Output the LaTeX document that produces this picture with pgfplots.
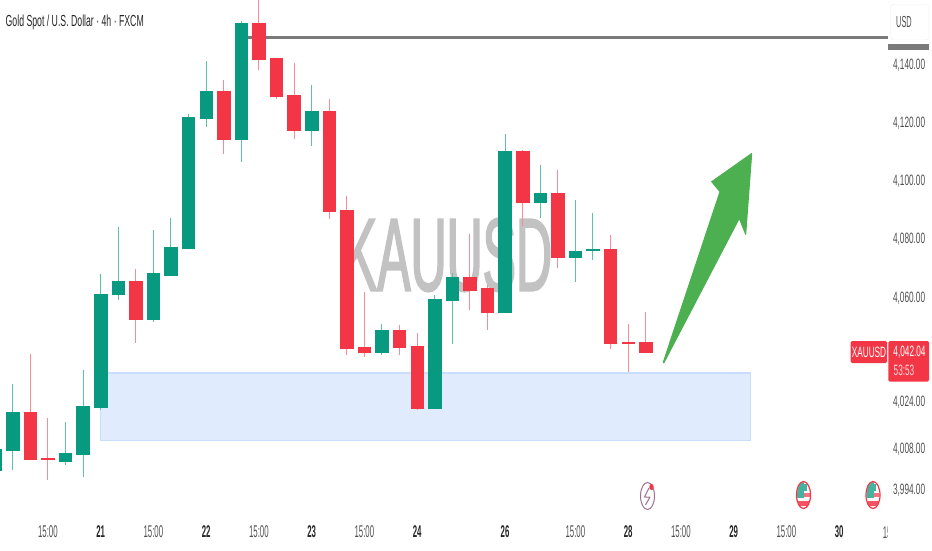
\documentclass[border=0pt]{standalone}
\usepackage{pgfplots}
\pgfplotsset{compat=1.18}
\usepackage{fontspec}
\setmainfont[FakeStretch=0.55]{Liberation Sans}
\newfontfamily\wmfont[FakeStretch=0.48,FakeBold=1.5]{Liberation Sans}
\newfontfamily\titlefont[FakeStretch=0.545]{Liberation Sans}
\newfontfamily\xfont[FakeStretch=0.46]{Liberation Sans}
\definecolor{cgreen}{HTML}{089981}
\definecolor{cred}{HTML}{F23645}
\definecolor{wgreen}{HTML}{5FBFAD}
\definecolor{wred}{HTML}{FA8A95}
\definecolor{zonef}{HTML}{E0ECFD}
\definecolor{zoned}{HTML}{C8DEFB}
\definecolor{axtxt}{HTML}{505050}
\definecolor{arrowg}{HTML}{4CAF50}
\definecolor{iconc}{HTML}{A0708F}
% \candle{index}{body top}{body bottom}{high}{low}{fill}{wick}
\newcommand{\candle}[7]{%
  \pgfmathsetmacro\cL{#1-0.355}\pgfmathsetmacro\cR{#1+0.355}%
  \addplot[draw=#7,line width=1pt] coordinates {(#1,#4)(#1,#5)};
  \addplot[fill=#6,draw=#6,line width=0.6pt] coordinates {(\cL,#2)(\cR,#2)(\cR,#3)(\cL,#3)} -- cycle;}
\newcommand{\gc}[5]{\candle{#1}{#2}{#3}{#4}{#5}{cgreen}{wgreen}}
\newcommand{\rc}[5]{\candle{#1}{#2}{#3}{#4}{#5}{cred}{wred}}
\newcommand{\dl}[1]{\textbf{\textcolor{black!85}{#1}}}
\begin{document}
\begin{tikzpicture}
\path[use as bounding box] (0pt,0pt) rectangle (932pt,550pt);
% watermark behind the candles
\node[text=black!24,inner sep=0,anchor=center] at (448pt,295pt) {\wmfont\fontsize{104}{104}\selectfont KAUUSD};
\begin{axis}[
  at={(0pt,32pt)},anchor=south west,
  scale only axis,width=888pt,height=518pt,
  xmin=-0.722,xmax=49.78,
  ymin=3984.39,ymax=4162.33,
  axis line style={draw=none},
  tick style={draw=none},
  xtick={2,5,8,11,14,17,20,23,28,32,35,38,41,44,47},
  xticklabels={15:00,\dl{21},15:00,\dl{22},15:00,\dl{23},15:00,\dl{24},\dl{26},15:00,\dl{28},15:00,\dl{29},15:00,\dl{30}},
  xticklabel style={font=\xfont\fontsize{17}{19}\selectfont,text=axtxt,anchor=center,yshift=-14pt},
  ytick={3994,4008,4024,4060,4080,4100,4120,4140},
  yticklabels={{3,994.00},{4,008.00},{4,024.00},{4,060.00},{4,080.00},{4,100.00},{4,120.00},{4,140.00}},
  yticklabel pos=right,
  yticklabel style={font=\fontsize{15}{17}\selectfont,text=axtxt,anchor=west,xshift=1.5pt},
  major tick length=0pt,
  clip=true,
]
% demand zone
\addplot[fill=zonef,draw=zoned,line width=1.2pt] coordinates {(4.993,4034.20)(41.98,4034.20)(41.98,4011.01)(4.993,4011.01)} -- cycle;
% resistance line
\addplot[draw=black!52,line width=2.4pt] coordinates {(13.38,4149.4)(49.78,4149.4)};
\gc{-1}{4007.98}{4000.88}{4030.00}{4000.88}
\gc{0}{4020.56}{4007.64}{4030.31}{4000.88}
\rc{1}{4020.56}{4004.55}{4040.72}{4004.55}
\rc{2}{4004.83}{4004.48}{4018.64}{3997.34}
\gc{3}{4006.61}{4003.97}{4017.26}{4002.59}
\gc{4}{4022.86}{4006.27}{4035.23}{3998.57}
\gc{5}{4061.33}{4022.41}{4068.21}{4021.49}
\gc{6}{4065.80}{4061.09}{4084.25}{4059.27}
\rc{7}{4065.80}{4052.51}{4069.92}{4044.40}
\gc{8}{4068.44}{4052.51}{4083.32}{4051.61}
\gc{9}{4077.48}{4067.76}{4087.34}{4067.76}
\gc{10}{4121.90}{4077.14}{4123.17}{4076.79}
\gc{11}{4130.97}{4121.69}{4141.27}{4118.81}
\rc{12}{4130.97}{4114.58}{4134.85}{4109.43}
\gc{13}{4154.19}{4114.58}{4155.12}{4106.78}
\rc{14}{4154.19}{4141.82}{4164.05}{4138.28}
\rc{15}{4142.17}{4129.25}{4142.51}{4128.22}
\rc{16}{4129.45}{4117.67}{4140.79}{4114.48}
\gc{17}{4124.20}{4117.57}{4133.13}{4112.18}
\rc{18}{4124.20}{4089.74}{4128.22}{4087.10}
\rc{19}{4090.09}{4042.68}{4095.00}{4040.38}
\rc{20}{4043.03}{4041.17}{4061.92}{4039.80}
\gc{21}{4048.87}{4041.17}{4051.03}{4040.38}
\rc{22}{4048.87}{4043.03}{4050.58}{4040.38}
\rc{23}{4043.37}{4021.93}{4047.83}{4021.49}
\gc{24}{4059.51}{4021.93}{4060.89}{4021.93}
\gc{25}{4067.17}{4059.17}{4068.55}{4044.26}
\rc{26}{4067.17}{4062.71}{4081.95}{4055.94}
\rc{27}{4063.16}{4055.15}{4064.43}{4048.87}
\gc{28}{4110.36}{4055.15}{4116.19}{4055.15}
\rc{29}{4110.36}{4092.94}{4110.70}{4084.69}
\gc{30}{4095.93}{4092.84}{4105.75}{4087.44}
\rc{31}{4095.93}{4074.05}{4103.93}{4070.37}
\gc{32}{4076.11}{4074.05}{4093.63}{4065.46}
\gc{33}{4076.62}{4076.28}{4089.16}{4073.01}
\rc{34}{4076.55}{4044.40}{4081.50}{4042.54}
\rc{35}{4044.74}{4044.26}{4051.03}{4034.44}
\rc{36}{4044.74}{4041.17}{4055.15}{4041.17}
\end{axis}
\begin{scope}[x=1pt,y=1pt]
% the time label cut off by the price scale
\node[text=axtxt,inner sep=0] at (892.6,17) {\xfont\fontsize{17}{19}\selectfont 15:00};
\fill[white] (888,0) rectangle (932,40);
% title
\node[anchor=west,inner sep=0,text=black!85] at (5.5,528) {\titlefont\fontsize{16}{18}\selectfont Gold Spot / U.S. Dollar · 4h · FXCM};
% arrow
\fill[arrowg,draw=arrowg,line width=1pt,line join=round] (663.2,187.5) -- (720,358.3) -- (711.7,368.3) -- (751.7,396.5) -- (745.7,315.7) -- (739.3,331.7) -- (664,187.5) -- cycle;
% USD box
\draw[black!7,fill=white,rounded corners=3pt] (890.7,510) rectangle (929,545.7);
\node[text=axtxt,inner sep=0] at (904,528) {\xfont\fontsize{16}{18}\selectfont USD};
\fill[black!52] (888,500) rectangle (929,506);
% price tags
\fill[cred,rounded corners=1.5pt] (850.7,187) rectangle (887,209);
\node[text=white,inner sep=0] at (869,198) {\fontsize{15}{17}\selectfont XAUUSD};
\fill[cred,rounded corners=1.5pt] (888.3,168.3) rectangle (929,209);
\node[text=white,inner sep=0] at (909.5,198) {\fontsize{15}{17}\selectfont 4,042.04};
\node[text=white!80!cred,inner sep=0] at (904,180) {\fontsize{15}{17}\selectfont 53:53};
% lightning icon
\draw[iconc,line width=1pt] (647.5,54) ellipse (7 and 13.5);
\draw[iconc,line width=1pt,line join=round] (649,62) -- (644.5,53) -- (650,53) -- (645.5,45);
\fill[cred] (651.5,63) ellipse (2.2 and 3.2);
% flag icons
\foreach \cx in {803.5,873}{
  \begin{scope}
    \clip (\cx,55) ellipse (6.5 and 13);
    \fill[white] (\cx-8,40) rectangle (\cx+8,70);
    \fill[cred!85] (\cx-8,44) rectangle (\cx+8,49);
    \fill[cred!70] (\cx,53.5) rectangle (\cx+8,57);
    \fill[cgreen!75] (\cx-8,52) rectangle (\cx+0.5,68);
    \fill[cgreen!75] (\cx+0.5,59) rectangle (\cx+3,66);
  \end{scope}
  \draw[cred,line width=1.2pt] (\cx,55) ellipse (7 and 13.5);
}
\end{scope}
\end{tikzpicture}
\end{document}
